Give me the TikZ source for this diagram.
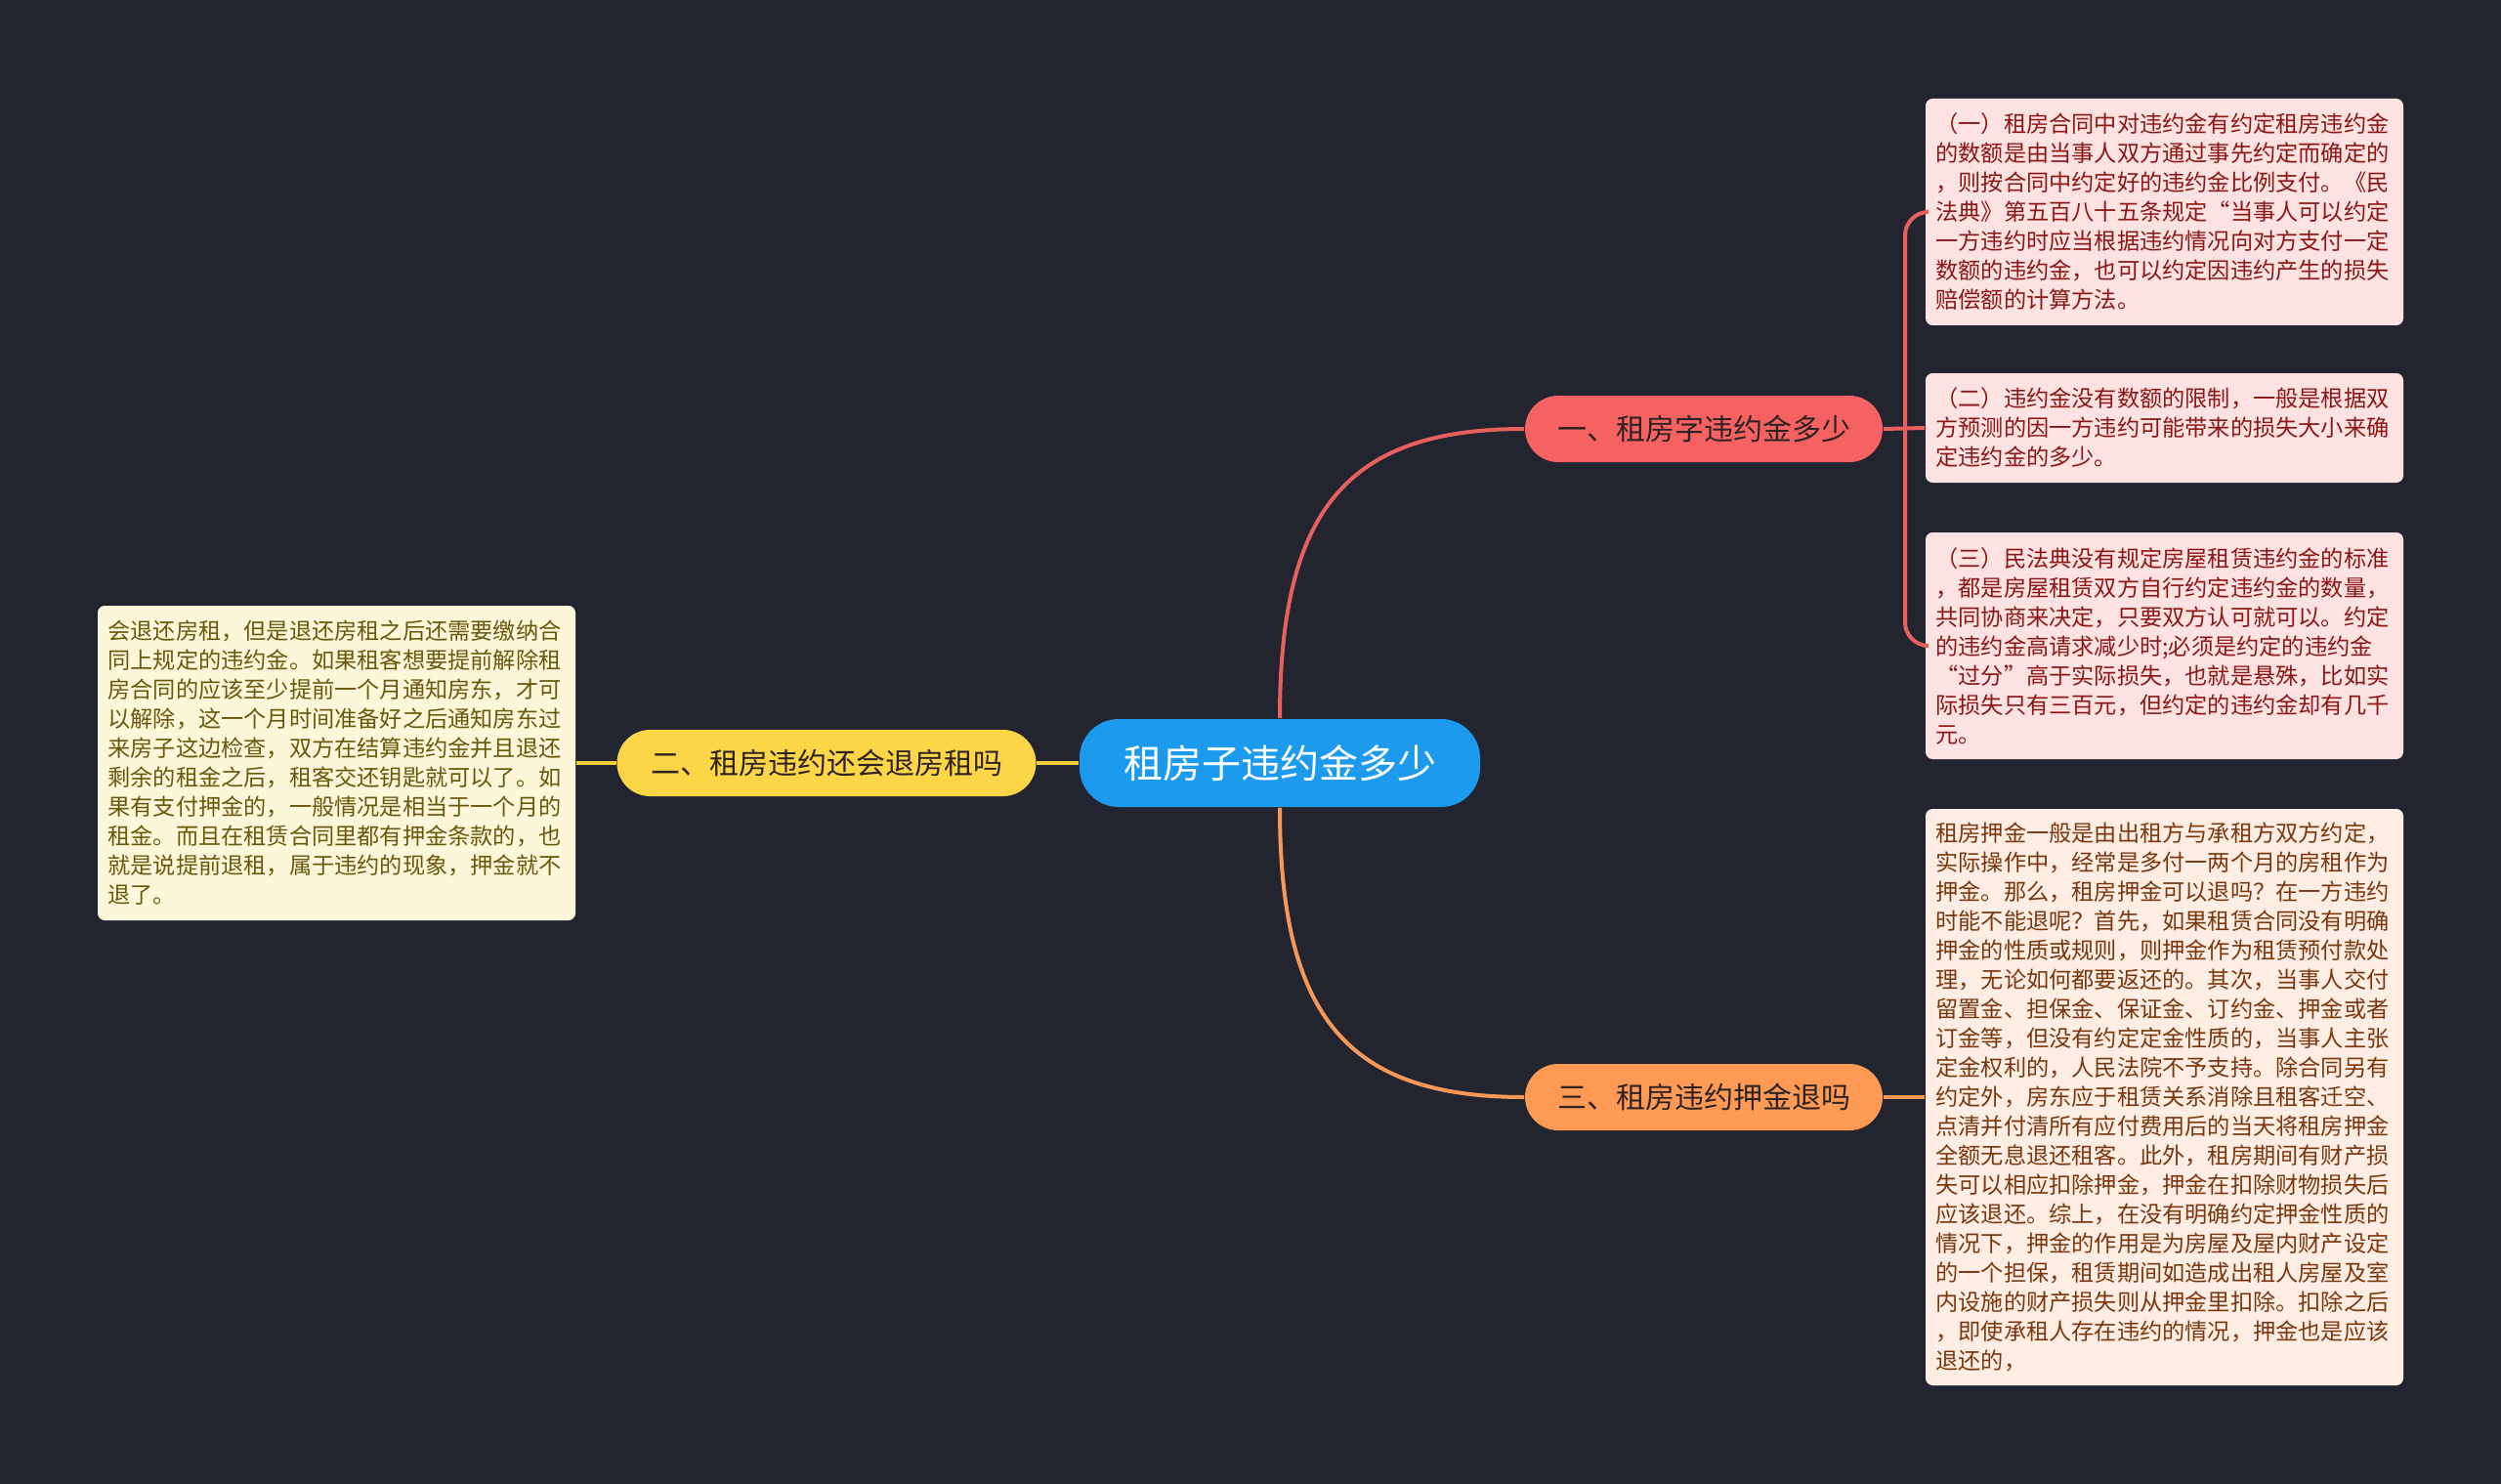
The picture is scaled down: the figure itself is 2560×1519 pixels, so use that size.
\documentclass[tikz,border=0pt]{standalone}
\usepackage{fontspec}
\setmainfont{Noto Sans CJK SC}
\definecolor{bg}{RGB}{34,37,47}
\definecolor{cblue}{RGB}{27,154,238}
\definecolor{cred}{RGB}{246,98,98}
\definecolor{credline}{RGB}{232,96,94}
\definecolor{cyel}{RGB}{253,214,72}
\definecolor{cyelline}{RGB}{244,205,60}
\definecolor{corg}{RGB}{255,154,84}
\definecolor{corgline}{RGB}{247,152,86}
\definecolor{pinkfill}{RGB}{253,226,226}
\definecolor{pinktext}{RGB}{140,22,22}
\definecolor{peachfill}{RGB}{253,237,226}
\definecolor{peachtext}{RGB}{122,55,15}
\definecolor{creamfill}{RGB}{253,247,218}
\definecolor{creamtext}{RGB}{105,88,12}
\definecolor{darktext}{RGB}{45,35,35}
\begin{document}
\begin{tikzpicture}[x=0.25pt,y=-0.25pt,
  rootbox/.style={fill=cblue, text=white, rounded corners=10pt, minimum width=102.5pt, minimum height=22.5pt, inner sep=0pt, font=\fontsize{10pt}{12pt}\selectfont},
  topicbox/.style={rounded corners=8.5pt, minimum height=17pt, inner sep=0pt, text=darktext, font=\fontsize{7.5pt}{9pt}\selectfont},
  leafbox/.style={rounded corners=1.8pt, minimum width=122.25pt, inner sep=0pt, text width=117pt, align=left, font=\fontsize{5.8pt}{7.5pt}\selectfont},
  pinkleaf/.style={leafbox, fill=pinkfill, text=pinktext},
  peachleaf/.style={leafbox, fill=peachfill, text=peachtext},
  creamleaf/.style={leafbox, fill=creamfill, text=creamtext},
  link/.style={line width=1pt}
]
\useasboundingbox[fill=bg] (0,0) rectangle (2560,1519);

% nodes
\node[rootbox] (root) at (1310,781) {租房子违约金多少};
\node[topicbox, fill=cred, minimum width=91.5pt] (t1) at (1744,439) {一、租房字违约金多少};
\node[topicbox, fill=cyel, minimum width=107.25pt] (t2) at (846,781) {二、租房违约还会退房租吗};
\node[topicbox, fill=corg, minimum width=91.5pt] (t3) at (1744,1123) {三、租房违约押金退吗};

\node[pinkleaf, minimum height=58pt] (b1) at (2215.5,217) {（一）租房合同中对违约金有约定租房违约金\\的数额是由当事人双方通过事先约定而确定的\\，则按合同中约定好的违约金比例支付。《民\\法典》第五百八十五条规定“当事人可以约定\\一方违约时应当根据违约情况向对方支付一定\\数额的违约金，也可以约定因违约产生的损失\\赔偿额的计算方法。};
\node[pinkleaf, minimum height=28pt] (b2) at (2215.5,438) {（二）违约金没有数额的限制，一般是根据双\\方预测的因一方违约可能带来的损失大小来确\\定违约金的多少。};
\node[pinkleaf, minimum height=58pt] (b3) at (2215.5,661) {（三）民法典没有规定房屋租赁违约金的标准\\，都是房屋租赁双方自行约定违约金的数量，\\共同协商来决定，只要双方认可就可以。约定\\的违约金高请求减少时;必须是约定的违约金\\“过分”高于实际损失，也就是悬殊，比如实\\际损失只有三百元，但约定的违约金却有几千\\元。};
\node[peachleaf, minimum height=147.5pt] (b4) at (2215.5,1123) {租房押金一般是由出租方与承租方双方约定，\\实际操作中，经常是多付一两个月的房租作为\\押金。那么，租房押金可以退吗？在一方违约\\时能不能退呢？首先，如果租赁合同没有明确\\押金的性质或规则，则押金作为租赁预付款处\\理，无论如何都要返还的。其次，当事人交付\\留置金、担保金、保证金、订约金、押金或者\\订金等，但没有约定定金性质的，当事人主张\\定金权利的，人民法院不予支持。除合同另有\\约定外，房东应于租赁关系消除且租客迁空、\\点清并付清所有应付费用后的当天将租房押金\\全额无息退还租客。此外，租房期间有财产损\\失可以相应扣除押金，押金在扣除财物损失后\\应该退还。综上，在没有明确约定押金性质的\\情况下，押金的作用是为房屋及屋内财产设定\\的一个担保，租赁期间如造成出租人房屋及室\\内设施的财产损失则从押金里扣除。扣除之后\\，即使承租人存在违约的情况，押金也是应该\\退还的，};
\node[creamleaf, minimum height=80.5pt] (b5) at (344.5,781) {会退还房租，但是退还房租之后还需要缴纳合\\同上规定的违约金。如果租客想要提前解除租\\房合同的应该至少提前一个月通知房东，才可\\以解除，这一个月时间准备好之后通知房东过\\来房子这边检查，双方在结算违约金并且退还\\剩余的租金之后，租客交还钥匙就可以了。如\\果有支付押金的，一般情况是相当于一个月的\\租金。而且在租赁合同里都有押金条款的，也\\就是说提前退租，属于违约的现象，押金就不\\退了。};

% connectors from root
\draw[link, credline] (root.north) .. controls (1310,520) and (1380,439) .. (t1.west);
\draw[link, corgline] (root.south) .. controls (1310,1042) and (1380,1123) .. (t3.west);
\draw[link, cyelline] (root.west) -- (t2.east);
\draw[link, cyelline] (t2.west) -- (b5.east);

% topic 1 to its leaves
\coordinate (sp1) at (1950,439);
\draw[link, credline] (t1.east) -- (b2.west);
\draw[link, credline, rounded corners=6pt] (sp1) |- (b1.west);
\draw[link, credline, rounded corners=6pt] (sp1) |- (b3.west);

% topic 3 to its leaf
\draw[link, corgline] (t3.east) -- (b4.west);
\end{tikzpicture}
\end{document}
